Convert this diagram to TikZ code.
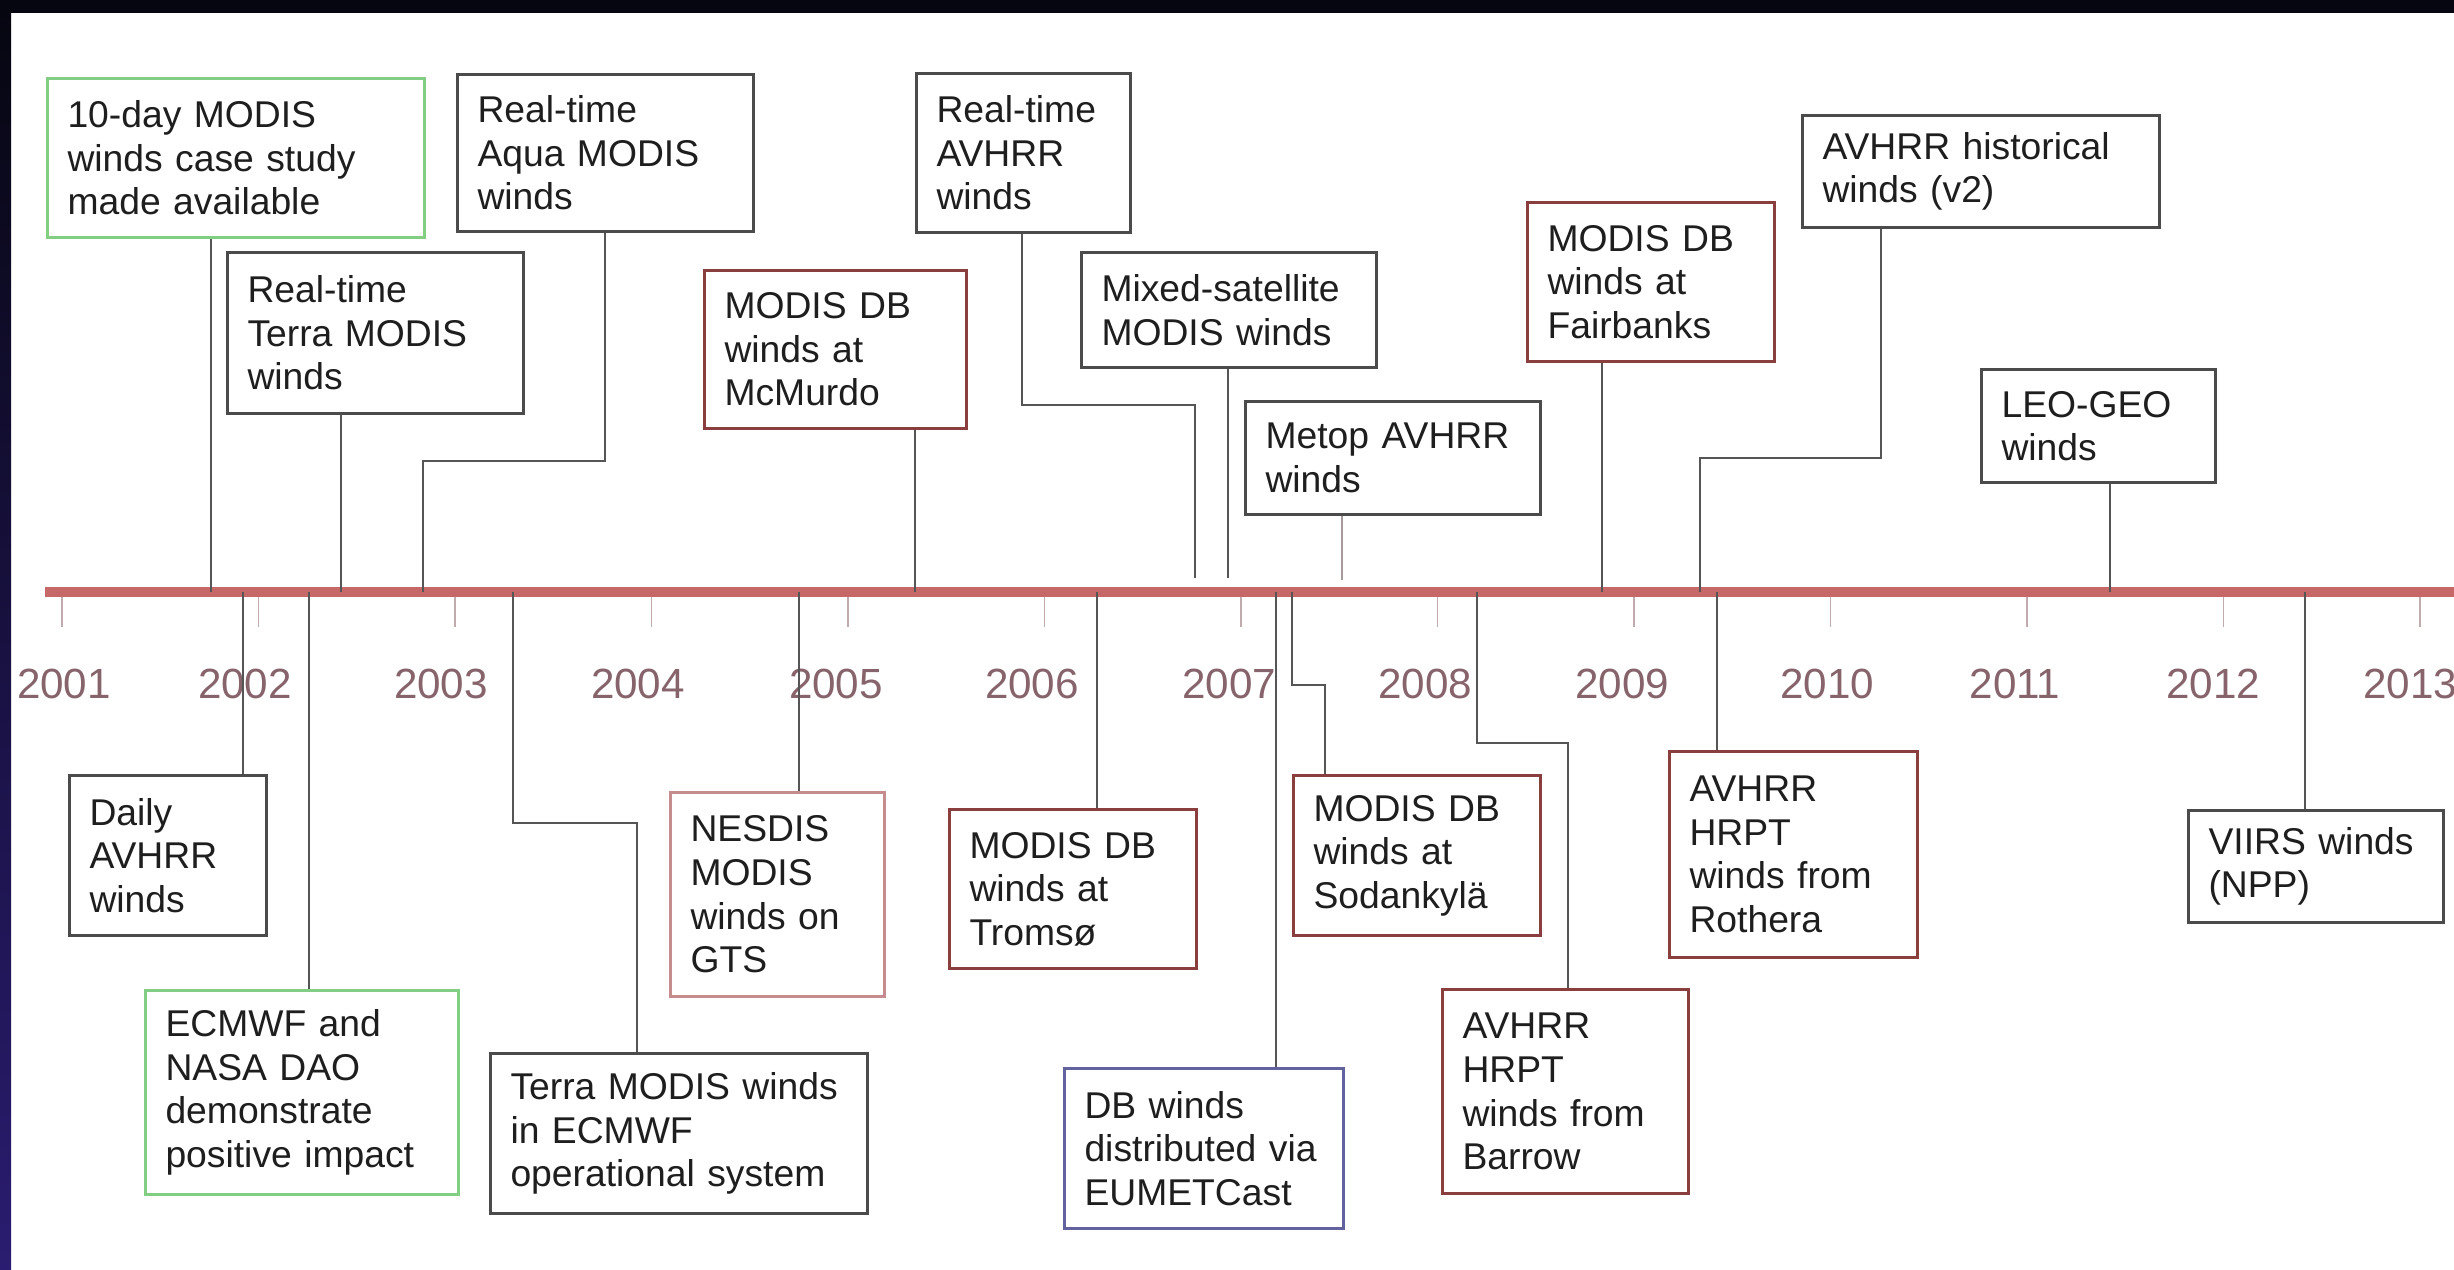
\documentclass[tikz,border=0pt]{standalone}
\usepackage{fontspec}
\setmainfont{Liberation Sans}
\usetikzlibrary{positioning}

\definecolor{topblack}{RGB}{6,6,16}
\definecolor{bandnavy}{RGB}{42,28,112}
\definecolor{barred}{RGB}{198,104,104}
\definecolor{tickgray}{RGB}{192,172,174}
\definecolor{yearmauve}{RGB}{135,100,108}
\definecolor{linkgray}{RGB}{85,85,85}
\definecolor{faintgray}{RGB}{165,155,155}
\definecolor{boxgray}{RGB}{75,75,75}
\definecolor{boxgreen}{RGB}{130,206,130}
\definecolor{boxred}{RGB}{138,62,62}
\definecolor{boxpink}{RGB}{196,140,140}
\definecolor{boxblue}{RGB}{98,98,158}
\definecolor{textdark}{RGB}{30,30,30}

\begin{document}
\begin{tikzpicture}[x=0.01cm,y=-0.01cm,
  event/.style={draw=boxgray,line width=0.85pt,fill=white,anchor=north west,
    align=left,inner xsep=2mm,inner ysep=0pt,text=textdark,
    font=\fontsize{10.6}{12.4}\selectfont},
  evgreen/.style={draw=boxgreen},
  evred/.style={draw=boxred},
  evpink/.style={draw=boxpink},
  evblue/.style={draw=boxblue},
  link/.style={draw=linkgray,line width=0.6pt},
  yeartick/.style={draw=tickgray,line width=0.55pt},
  year/.style={text=yearmauve,font=\fontsize{12}{14}\selectfont}]

  \useasboundingbox (0,0) rectangle (2454,1270);
  \fill[white] (0,0) rectangle (2454,1270);
  \shade[top color=topblack,bottom color=bandnavy] (0,0) rectangle (11,1270);
  \fill[topblack] (0,0) rectangle (2454,13);

  % time axis
  \draw[barred,line width=0.9mm] (45,592) -- (2454,592);
  \foreach \yr/\lx [count=\k from 0] in {2001/64,2002/245,2003/441,2004/638,
      2005/836,2006/1032,2007/1229,2008/1425,2009/1622,2010/1827,2011/2015,
      2012/2213,2013/2410}
  {
    \draw[yeartick] (62+196.5*\k,597) -- ++(0,30);
    \node[year] (y\yr) at (\lx,684) {\yr};
  }

  % events above the axis
  \node[event,evgreen,text width=33.7mm,minimum height=15.9mm] (tenday) at (46,77)
    {10-day MODIS\\winds case study\\made available};
  \node[event,text width=25.6mm,minimum height=15.7mm] (aqua) at (456,73)
    {Real-time\\Aqua MODIS\\winds};
  \node[event,text width=25.6mm,minimum height=16.1mm] (terra) at (226,251)
    {Real-time\\Terra MODIS\\winds};
  \node[event,evred,text width=22.2mm,minimum height=15.8mm] (mcmurdo) at (703,269)
    {MODIS DB\\winds at\\McMurdo};
  \node[event,text width=17.4mm,minimum height=15.9mm] (rtavhrr) at (915,72)
    {Real-time\\AVHRR\\winds};
  \node[event,text width=25.5mm,minimum height=11.5mm] (mixed) at (1080,251)
    {Mixed-satellite\\MODIS winds};
  \node[event,text width=25.5mm,minimum height=11.3mm] (metop) at (1244,400)
    {Metop AVHRR\\winds};
  \node[event,evred,text width=20.7mm,minimum height=15.9mm] (fairbanks) at (1526,201)
    {MODIS DB\\winds at\\Fairbanks};
  \node[event,text width=31.7mm,minimum height=11.2mm] (hist) at (1801,114)
    {AVHRR historical\\winds (v2)};
  \node[event,text width=19.4mm,minimum height=11.3mm] (leogeo) at (1980,368)
    {LEO-GEO\\winds};

  % events below the axis
  \node[event,text width=15.7mm,minimum height=16mm] (daily) at (68,774)
    {Daily\\AVHRR\\winds};
  \node[event,evgreen,text width=27.3mm,minimum height=20.4mm] (ecmwf) at (144,989)
    {ECMWF and\\NASA DAO\\demonstrate\\positive impact};
  \node[event,text width=33.7mm,minimum height=16mm] (terraec) at (489,1052)
    {Terra MODIS winds\\in ECMWF\\operational system};
  \node[event,evpink,text width=17.4mm,minimum height=20.4mm] (nesdis) at (669,791)
    {NESDIS\\MODIS\\winds on\\GTS};
  \node[event,evred,text width=20.7mm,minimum height=15.9mm] (tromso) at (948,808)
    {MODIS DB\\winds at\\Tromsø};
  \node[event,evblue,text width=23.9mm,minimum height=16mm] (eumet) at (1063,1067)
    {DB winds\\distributed via\\EUMETCast};
  \node[event,evred,text width=20.7mm,minimum height=16mm] (sodank) at (1292,774)
    {MODIS DB\\winds at\\Sodankylä};
  \node[event,evred,text width=20.6mm,minimum height=20.4mm] (barrow) at (1441,988)
    {AVHRR\\HRPT\\winds from\\Barrow};
  \node[event,evred,text width=20.8mm,minimum height=20.6mm] (rothera) at (1668,750)
    {AVHRR\\HRPT\\winds from\\Rothera};
  \node[event,text width=21.5mm,minimum height=11.2mm] (viirs) at (2187,809)
    {VIIRS winds\\(NPP)};

  % dates on the axis
  \coordinate (d-tenday) at (211,592);
  \coordinate (d-daily) at (243,592);
  \coordinate (d-ecmwf) at (309,592);
  \coordinate (d-terra) at (341,592);
  \coordinate (d-aqua) at (423,592);
  \coordinate (d-terraec) at (513,592);
  \coordinate (d-nesdis) at (799,592);
  \coordinate (d-mcmurdo) at (915,592);
  \coordinate (d-tromso) at (1097,592);
  \coordinate (d-rtavhrr) at (1195,592);
  \coordinate (d-mixed) at (1228,592);
  \coordinate (d-eumet) at (1276,592);
  \coordinate (d-sodank) at (1292,592);
  \coordinate (d-metop) at (1342,592);
  \coordinate (d-barrow) at (1477,592);
  \coordinate (d-fairbanks) at (1602,592);
  \coordinate (d-hist) at (1700,592);
  \coordinate (d-rothera) at (1717,592);
  \coordinate (d-leogeo) at (2110,592);
  \coordinate (d-viirs) at (2305,592);
  % elbows
  \coordinate (k-aqua) at (605,461);
  \coordinate (k-rtavhrr) at (1022,405);
  \coordinate (k-hist) at (1881,458);
  \coordinate (k-terraec) at (637,823);
  \coordinate (k-sodank) at (1325,685);
  \coordinate (k-barrow) at (1568,743);

  \draw[link] (d-tenday) -- (d-tenday |- tenday.south);
  \draw[link] (d-terra) -- (d-terra |- terra.south);
  \draw[link] (d-aqua) |- (k-aqua) -- (k-aqua |- aqua.south);
  \draw[link] (d-mcmurdo) -- (d-mcmurdo |- mcmurdo.south);
  \draw[link,shorten <=1.4mm] (d-rtavhrr) |- (k-rtavhrr) -- (k-rtavhrr |- rtavhrr.south);
  \draw[link,shorten <=1.4mm] (d-mixed) -- (d-mixed |- mixed.south);
  \draw[link,draw=faintgray,shorten <=1.2mm] (d-metop) -- (d-metop |- metop.south);
  \draw[link] (d-fairbanks) -- (d-fairbanks |- fairbanks.south);
  \draw[link] (d-hist) |- (k-hist) -- (k-hist |- hist.south);
  \draw[link] (d-leogeo) -- (d-leogeo |- leogeo.south);

  \draw[link] (d-daily) -- (d-daily |- daily.north);
  \draw[link] (d-ecmwf) -- (d-ecmwf |- ecmwf.north);
  \draw[link] (d-terraec) |- (k-terraec) -- (k-terraec |- terraec.north);
  \draw[link] (d-nesdis) -- (d-nesdis |- nesdis.north);
  \draw[link] (d-tromso) -- (d-tromso |- tromso.north);
  \draw[link] (d-eumet) -- (d-eumet |- eumet.north);
  \draw[link] (d-sodank) |- (k-sodank) -- (k-sodank |- sodank.north);
  \draw[link] (d-barrow) |- (k-barrow) -- (k-barrow |- barrow.north);
  \draw[link] (d-rothera) -- (d-rothera |- rothera.north);
  \draw[link] (d-viirs) -- (d-viirs |- viirs.north);
\end{tikzpicture}
\end{document}
